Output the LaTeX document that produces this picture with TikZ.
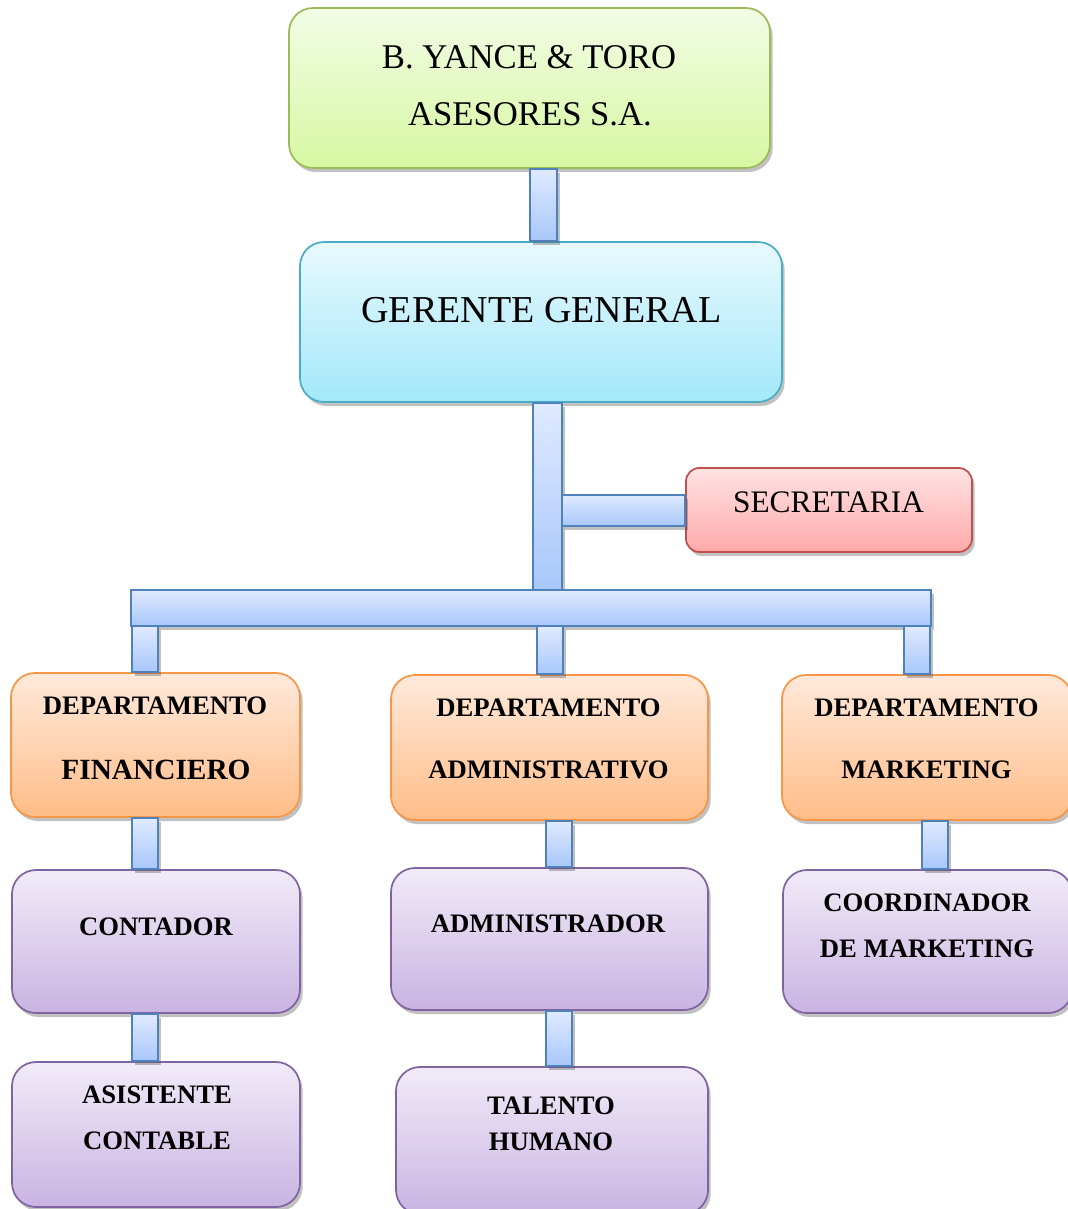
\documentclass[tikz,border=0pt]{standalone}
\usepackage{fontspec}
\setmainfont{Liberation Serif}
\usetikzlibrary{shadows,fit,calc}

\definecolor{grnTop}{HTML}{F2FCE6}\definecolor{grnBot}{HTML}{D7F8A2}\definecolor{grnLine}{HTML}{9BBB59}
\definecolor{cyaTop}{HTML}{E8F9FE}\definecolor{cyaBot}{HTML}{A3E8F9}\definecolor{cyaLine}{HTML}{4BACC6}
\definecolor{redTop}{HTML}{FFE3E3}\definecolor{redBot}{HTML}{FFA9A9}\definecolor{redLine}{HTML}{C0504D}
\definecolor{orgTop}{HTML}{FFE9DB}\definecolor{orgBot}{HTML}{FFBD88}\definecolor{orgLine}{HTML}{F79646}
\definecolor{purTop}{HTML}{F1EBF8}\definecolor{purBot}{HTML}{C9B4E2}\definecolor{purLine}{HTML}{8064A2}
\definecolor{barTop}{HTML}{DFEAFF}\definecolor{barBot}{HTML}{A8C7FB}\definecolor{barLine}{HTML}{4F81BD}

\tikzset{
  x=0.75pt, y=-0.75pt,
  softshadow/.style={drop shadow={shadow xshift=2pt, shadow yshift=-3pt, opacity=0.35, fill=black!70}},
  card/.style={draw, line width=1.3pt, rounded corners=18pt, inner sep=0pt, softshadow},
  greencard/.style={card, draw=grnLine, top color=grnTop, bottom color=grnBot},
  cyancard/.style={card, draw=cyaLine, top color=cyaTop, bottom color=cyaBot},
  redcard/.style={card, rounded corners=10pt, draw=redLine, top color=redTop, bottom color=redBot},
  orangecard/.style={card, draw=orgLine, top color=orgTop, bottom color=orgBot},
  purplecard/.style={card, draw=purLine, top color=purTop, bottom color=purBot},
  bar/.style={draw=barLine, line width=1.2pt, top color=barTop, bottom color=barBot, softshadow},
  label/.style={inner sep=0pt, anchor=center},
  titlefont/.style={label, font=\fontsize{26}{30}\selectfont},
  gerfont/.style={label, font=\fontsize{28.5}{32}\selectfont},
  secfont/.style={label, font=\fontsize{23.5}{28}\selectfont},
  boldfont/.style={label, font=\fontsize{20}{24}\selectfont\bfseries},
  bigbold/.style={label, font=\fontsize{22}{26}\selectfont\bfseries},
}

\begin{document}
\begin{tikzpicture}
\useasboundingbox (0,0) rectangle (1067,1209);

% boxes
\node[greencard, fit={(289,8) (770,168)}] (firma) {};
\node[cyancard, fit={(300,242) (782,402)}] (gerente) {};
\node[redcard, fit={(686,468) (972,552)}] (secre) {};
\node[orangecard, fit={(11,673) (300,817)}] (dfin) {};
\node[orangecard, fit={(391,675) (708,820)}] (dadm) {};
\node[orangecard, fit={(782,675) (1072,820)}] (dmkt) {};
\node[purplecard, fit={(12,870) (300,1013)}] (contador) {};
\node[purplecard, fit={(391,868) (708,1010)}] (admin) {};
\node[purplecard, fit={(783,870) (1072,1013)}] (coord) {};
\node[purplecard, fit={(12,1062) (300,1207)}] (asist) {};
\node[purplecard, fit={(396,1067) (708,1214)}] (talento) {};

% connecting bars
\coordinate (hbarTL) at (131,590);
\coordinate (hbarBR) at (931,626);
\path[bar] (530,0 |- firma.south) rectangle (557,0 |- gerente.north);
\path[bar] (533,0 |- gerente.south) rectangle (562,0 |- hbarTL);
\path[bar] (562,495) rectangle (secre.west |- 0,526);
\path[bar] (hbarTL) rectangle (hbarBR);
\path[bar] (132,0 |- hbarBR) rectangle (158,0 |- dfin.north);
\path[bar] (537,0 |- hbarBR) rectangle (563,0 |- dadm.north);
\path[bar] (904,0 |- hbarBR) rectangle (930,0 |- dmkt.north);
\path[bar] (132,0 |- dfin.south) rectangle (158,0 |- contador.north);
\path[bar] (546,0 |- dadm.south) rectangle (572,0 |- admin.north);
\path[bar] (922,0 |- dmkt.south) rectangle (948,0 |- coord.north);
\path[bar] (132,0 |- contador.south) rectangle (158,0 |- asist.north);
\path[bar] (546,0 |- admin.south) rectangle (572,0 |- talento.north);

% texts
\node[titlefont] (firmaA) at (529,57) {B. YANCE \& TORO};
\node[titlefont] (firmaB) at (530,114) {ASESORES S.A.};
\node[gerfont] (gerT) at (541.5,310) {GERENTE GENERAL};
\node[secfont] (secT) at (828.5,502) {SECRETARIA};

\node[boldfont] (dfinA) at (155,706) {DEPARTAMENTO};
\node[bigbold] (dfinB) at (156,770) {FINANCIERO};
\node[boldfont] (dadmA) at (548.5,708) {DEPARTAMENTO};
\node[boldfont] (dadmB) at (548.5,770) {ADMINISTRATIVO};
\node[boldfont] (dmktA) at (926.5,708) {DEPARTAMENTO};
\node[boldfont] (dmktB) at (926.5,770) {MARKETING};

\node[boldfont] (contT) at (156,927) {CONTADOR};
\node[boldfont] (adminT) at (548,924) {ADMINISTRADOR};
\node[boldfont] (coordA) at (927,903) {COORDINADOR};
\node[boldfont] (coordB) at (927,949) {DE MARKETING};

\node[boldfont] (asistA) at (157,1095) {ASISTENTE};
\node[boldfont] (asistB) at (157,1141) {CONTABLE};
\node[boldfont] (talA) at (551,1106) {TALENTO};
\node[boldfont] (talB) at (551,1142) {HUMANO};
\end{tikzpicture}
\end{document}
